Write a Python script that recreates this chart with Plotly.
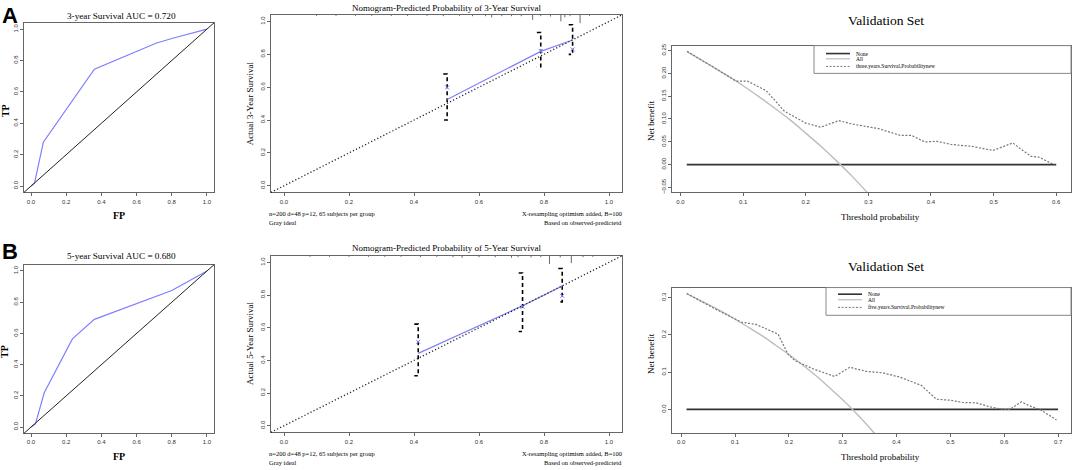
""" ROC, calibration and decision curves for the 3- and 5-year survival nomogram """

import plotly.graph_objects as go

W, H = 1073, 470

# ROC curves
roc3_fp = [0.0, 0.02, 0.07, 0.36, 0.71, 0.80, 1.0]
roc3_tp = [0.0, 0.02, 0.28, 0.745, 0.91, 0.94, 1.0]
roc5_fp = [0.0, 0.025, 0.075, 0.235, 0.36, 0.80, 1.0]
roc5_tp = [0.0, 0.02, 0.22, 0.565, 0.69, 0.875, 1.0]

# calibration (apparent line, bias-corrected x marks, CI bars)
cal3_pred = [0.502, 0.790, 0.888]
cal3_obs = [0.525, 0.818, 0.887]
cal3_corr = [0.598, 0.820, 0.830]
cal3_lo = [0.400, 0.724, 0.800]
cal3_hi = [0.680, 0.933, 0.980]

cal5_pred = [0.413, 0.734, 0.856]
cal5_obs = [0.443, 0.734, 0.855]
cal5_corr = [0.514, 0.728, 0.795]
cal5_lo = [0.306, 0.577, 0.758]
cal5_hi = [0.622, 0.935, 0.962]

# distribution of predicted risk (rug along top)
rug3_x = [0.10, 0.16, 0.22, 0.27, 0.33, 0.38, 0.44, 0.49, 0.54, 0.58, 0.62, 0.639,
          0.67, 0.70, 0.73, 0.765, 0.79, 0.82, 0.852, 0.864, 0.88, 0.911, 0.94]
rug3_h = [0.006, 0.006, 0.006, 0.006, 0.006, 0.006, 0.006, 0.008, 0.006, 0.008, 0.008, 0.015,
          0.008, 0.008, 0.008, 0.03, 0.008, 0.01, 0.04, 0.015, 0.008, 0.05, 0.006]
rug5_x = [0.08, 0.14, 0.20, 0.26, 0.31, 0.36, 0.42, 0.47, 0.52, 0.548, 0.60, 0.65,
          0.70, 0.72, 0.76, 0.79, 0.817, 0.85, 0.884, 0.92, 0.95]
rug5_h = [0.006, 0.006, 0.006, 0.006, 0.006, 0.006, 0.008, 0.006, 0.008, 0.012, 0.008, 0.008,
          0.012, 0.008, 0.01, 0.008, 0.05, 0.01, 0.045, 0.008, 0.006]

# decision curves, validation set
dca3_all_x = [0.01, 0.05, 0.075, 0.10, 0.125, 0.15, 0.175, 0.20, 0.225, 0.25, 0.275, 0.30]
dca3_all_y = [0.248, 0.216, 0.195, 0.173, 0.149, 0.124, 0.098, 0.069, 0.039, 0.007, -0.027, -0.064]
dca3_mod_x = [0.0106, 0.05, 0.089, 0.107, 0.137, 0.166, 0.200, 0.224, 0.253, 0.274, 0.316,
              0.351, 0.369, 0.390, 0.409, 0.433, 0.465, 0.499, 0.512, 0.531, 0.541, 0.560,
              0.573, 0.598]
dca3_mod_y = [0.2485, 0.216, 0.183, 0.183, 0.162, 0.117, 0.091, 0.082, 0.0965, 0.089, 0.079,
              0.064, 0.064, 0.0497, 0.051, 0.044, 0.040, 0.031, 0.038, 0.0475, 0.0365, 0.018,
              0.016, -0.0015]
dca3_none_x = [0.01, 0.60]

dca5_all_x = [0.01, 0.05, 0.075, 0.10, 0.125, 0.15, 0.175, 0.20, 0.225, 0.25, 0.275, 0.30,
              0.325, 0.35, 0.36]
dca5_all_y = [0.311, 0.282, 0.263, 0.242, 0.2205, 0.198, 0.173, 0.1475, 0.120, 0.091, 0.059,
              0.026, -0.010, -0.049, -0.066]
dca5_mod_x = [0.0105, 0.06, 0.1115, 0.139, 0.180, 0.198, 0.211, 0.245, 0.285, 0.313, 0.344,
              0.375, 0.406, 0.446, 0.474, 0.499, 0.524, 0.548, 0.573, 0.598, 0.610, 0.632,
              0.647, 0.666, 0.697]
dca5_mod_y = [0.311, 0.272, 0.2345, 0.228, 0.202, 0.149, 0.131, 0.109, 0.0885, 0.113, 0.102,
              0.098, 0.0867, 0.0646, 0.0274, 0.0248, 0.0186, 0.0177, 0.0071, 0.0, 0.0, 0.0204,
              0.0097, 0.0, -0.028]
dca5_none_x = [0.01, 0.70]

BLUE = "#7f7fff"
SERIF = "Liberation Serif"
SANS = "Liberation Sans"
DOTS = "1.2px,2.2px"
SHORTDASH = "2px,1.6px"


def px(x):
    return x / W


def py(y):
    return 1 - y / H


def bars(xs, lo, hi, cap=0.012):
    bx, by = [], []
    for x, a, b in zip(xs, lo, hi):
        bx += [x - cap, x, x, x - cap, None]
        by += [b, b, a, a, None]
    return bx, by


def rug(xs, hs, top=1.04):
    rx, ry = [], []
    for x, h in zip(xs, hs):
        rx += [x, x, None]
        ry += [top, top - h, None]
    return rx, ry


fig = go.Figure()

# ROC panels
for ax, fp, tp in [("", roc3_fp, roc3_tp), ("4", roc5_fp, roc5_tp)]:
    fig.add_trace(go.Scatter(x=fp, y=tp, mode="lines", line=dict(color=BLUE, width=1.2),
                             xaxis="x" + ax, yaxis="y" + ax, showlegend=False))

# calibration panels
for ax, pred, obs, corr, lo, hi, rx, rh in [
    ("2", cal3_pred, cal3_obs, cal3_corr, cal3_lo, cal3_hi, rug3_x, rug3_h),
    ("5", cal5_pred, cal5_obs, cal5_corr, cal5_lo, cal5_hi, rug5_x, rug5_h),
]:
    bx, by = bars(pred, lo, hi)
    fig.add_trace(go.Scatter(x=bx, y=by, mode="lines", line=dict(color="black", width=1.6, dash="4px,3px"),
                             xaxis="x" + ax, yaxis="y" + ax, showlegend=False))
    fig.add_trace(go.Scatter(x=pred, y=obs, mode="lines", line=dict(color=BLUE, width=1.2),
                             xaxis="x" + ax, yaxis="y" + ax, showlegend=False))
    fig.add_trace(go.Scatter(x=pred, y=corr, mode="markers",
                             marker=dict(symbol="x-thin", size=4, line=dict(color=BLUE, width=1)),
                             xaxis="x" + ax, yaxis="y" + ax, showlegend=False))
    ux, uy = rug(rx, rh)
    fig.add_trace(go.Scatter(x=ux, y=uy, mode="lines", line=dict(color="#444", width=0.8),
                             xaxis="x" + ax, yaxis="y" + ax, showlegend=False))

# decision curve panels
for ax, nx, ax_, ay_, mx, my in [
    ("3", dca3_none_x, dca3_all_x, dca3_all_y, dca3_mod_x, dca3_mod_y),
    ("6", dca5_none_x, dca5_all_x, dca5_all_y, dca5_mod_x, dca5_mod_y),
]:
    fig.add_trace(go.Scatter(x=nx, y=[0, 0], mode="lines", line=dict(color="#333", width=1.8),
                             xaxis="x" + ax, yaxis="y" + ax, showlegend=False))
    fig.add_trace(go.Scatter(x=ax_, y=ay_, mode="lines", line=dict(color="#bdbdbd", width=1.4, shape="spline"),
                             xaxis="x" + ax, yaxis="y" + ax, showlegend=False))
    fig.add_trace(go.Scatter(x=mx, y=my, mode="lines", line=dict(color="#777", width=1.2, dash=SHORTDASH),
                             xaxis="x" + ax, yaxis="y" + ax, showlegend=False))

tickfont = dict(family=SANS, size=6, color="#333")


def axis(domain, rng, dtick, fmt, anchor, vertical=False):
    a = dict(domain=domain, range=rng, dtick=dtick, tick0=0, tickformat=fmt, anchor=anchor,
             showgrid=False, zeroline=False, showline=True, mirror=True, linecolor="#666",
             linewidth=1, ticks="outside", ticklen=3, tickcolor="#666", tickfont=tickfont)
    if vertical:
        a["tickangle"] = -90
    return a


top_y = [py(192), py(21)]
bot_y = [py(435), py(265)]
cal_top = [py(192), py(13)]
cal_bot = [py(434), py(256)]
roc_x = [px(24), px(214)]
cal_x = [px(271), px(622)]
dca_x = [px(672), px(1071)]
r = [-0.04, 1.04]

fig.update_layout(
    xaxis=axis(roc_x, r, 0.2, ".1f", "y"),
    yaxis=axis(top_y, r, 0.2, ".1f", "x", True),
    xaxis2=axis(cal_x, r, 0.2, ".1f", "y2"),
    yaxis2=axis(cal_top, r, 0.2, ".1f", "x2", True),
    xaxis3=axis(dca_x, [-0.0136, 0.6236], 0.1, ".1f", "y3"),
    yaxis3=axis([py(192), py(44)], [-0.061, 0.261], 0.05, ".2f", "x3", True),
    xaxis4=axis(roc_x, r, 0.2, ".1f", "y4"),
    yaxis4=axis(bot_y, r, 0.2, ".1f", "x4", True),
    xaxis5=axis(cal_x, r, 0.2, ".1f", "y5"),
    yaxis5=axis(cal_bot, r, 0.2, ".1f", "x5", True),
    xaxis6=axis(dca_x, [-0.017, 0.724], 0.1, ".1f", "y6"),
    yaxis6=axis([py(435), py(288)], [-0.064, 0.327], 0.1, ".1f", "x6", True),
)

shapes = []
# reference diagonals
for ax in ["", "4"]:
    shapes.append(dict(type="line", xref="x" + ax + " domain", yref="y" + ax + " domain",
                       x0=0, y0=0, x1=1, y1=1, line=dict(color="#222", width=1)))
for ax in ["2", "5"]:
    shapes.append(dict(type="line", xref="x" + ax + " domain", yref="y" + ax + " domain",
                       x0=0, y0=0, x1=1, y1=1, line=dict(color="#222", width=1.3, dash=DOTS)))

annotations = []


def text(x, y, s, size, family=SERIF, angle=0, xanchor="center", bold=False):
    if bold:
        s = "<b>" + s + "</b>"
    annotations.append(dict(x=px(x), y=py(y), xref="paper", yref="paper", text=s, showarrow=False,
                            font=dict(family=family, size=size, color="black"), textangle=angle,
                            xanchor=xanchor, yanchor="middle", borderpad=0))


# DCA legends drawn R-style
for (x0, y0, y1, lx0, lx1, tx, rows, label) in [
    (814, 44, 72, 826, 850, 855, [52, 57.3, 65], "three.years.Survival.Probabilitynew"),
    (826, 288, 316, 838, 862, 867, [294.7, 300.3, 308], "five.years.Survival.Probabilitynew"),
]:
    shapes.append(dict(type="rect", xref="paper", yref="paper", x0=px(x0), x1=px(1071),
                       y0=py(y1), y1=py(y0), line=dict(color="#888", width=1)))
    styles = [dict(color="#333", width=1.6), dict(color="#bdbdbd", width=1.2),
              dict(color="#777", width=1, dash=SHORTDASH)]
    for yy, st, name in zip(rows, styles, ["None", "All", label]):
        shapes.append(dict(type="line", xref="paper", yref="paper", x0=px(lx0), x1=px(lx1),
                           y0=py(yy), y1=py(yy), line=st))
        text(tx, yy, name, 5.5, xanchor="left")

# panel letters
text(10, 14, "A", 22, family=SANS, bold=True)
text(10, 252, "B", 22, family=SANS, bold=True)

# ROC titles
text(121, 14, "3-year Survival AUC = 0.720", 9.2)
text(121, 256, "5-year Survival AUC = 0.680", 9.2)
text(119, 215, "FP", 10, bold=True)
text(119, 458, "FP", 10, bold=True)
text(5, 110, "TP", 10, angle=-90, bold=True)
text(5, 353, "TP", 10, angle=-90, bold=True)

# calibration titles
for yoff, yr in [(0, "3"), (242, "5")]:
    text(447, 6 + yoff, "Nomogram-Predicted Probability of %s-Year Survival" % yr, 9)
    text(250, 102 + yoff, "Actual %s-Year Survival" % yr, 9, angle=-90)
    text(268, 213 + yoff, "n=200 d=48 p=12, 65 subjects per group", 6.5, xanchor="left")
    text(268, 222 + yoff, "Gray ideal", 6.5, xanchor="left")
    text(623, 213 + yoff, "X-resampling optimism added, B=100", 6.5, xanchor="right")
    text(623, 222 + yoff, "Based on observed-predictetd", 6.5, xanchor="right")

# DCA titles
for ty, xy, ny in [(19, 217, 120), (267, 459, 355)]:
    text(886, ty, "Validation Set", 13.5)
    text(880, xy, "Threshold probability", 9)
    text(651, ny, "Net benefit", 9, angle=-90)

fig.update_layout(
    shapes=shapes,
    annotations=annotations,
    width=W,
    height=H,
    autosize=False,
    margin=dict(l=0, r=0, t=0, b=0),
    paper_bgcolor="white",
    plot_bgcolor="white",
)

# page body has a default 8px margin; drop it so the figure fills the window
fig.write_html(
    "out.html",
    config={"displayModeBar": False},
    post_script="document.body.style.margin='0';document.body.style.overflow='hidden';",
)
